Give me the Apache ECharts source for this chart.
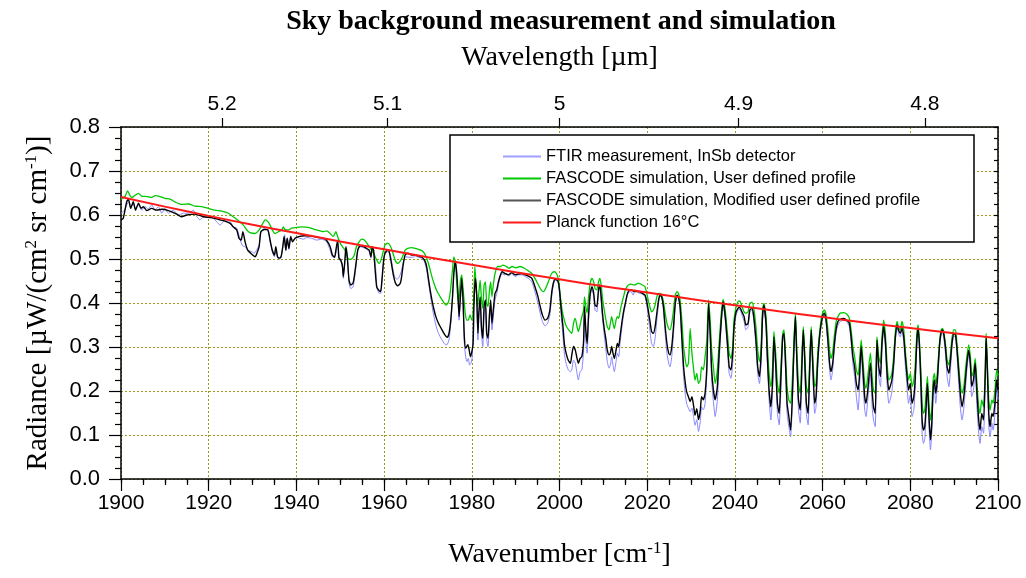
<!DOCTYPE html>
<html>
<head>
<meta charset="utf-8">
<script src="https://cdn.jsdelivr.net/npm/echarts@6/dist/echarts.min.js"></script>
<style>
  html, body { margin: 0; padding: 0; background: #fff; }
  #chart { width: 1026px; height: 578px; }
</style>
</head>
<body>
<div id="chart"></div>
<script>
// Sky radiance spectra: [wavenumber cm^-1, radiance µW/(cm² sr cm^-1)]

// FTIR measurement, InSb detector
const ftirMeasurement = [
  [1900.0,0.604],[1900.8,0.611],[1901.3,0.623],[1901.8,0.630],[1902.3,0.619],[1902.8,0.627],[1903.3,0.615],[1904.0,0.623],[1904.7,0.611],[1905.5,0.619],
  [1906.2,0.613],[1907.0,0.623],[1907.8,0.611],[1908.5,0.619],[1909.3,0.604],[1910.0,0.615],[1910.8,0.604],[1911.9,0.611],[1913.1,0.600],[1914.2,0.604],
  [1915.4,0.604],[1916.5,0.611],[1917.3,0.596],[1918.0,0.589],[1918.8,0.596],[1919.9,0.595],[1921.1,0.592],[1921.8,0.585],[1922.6,0.577],[1923.3,0.585],
  [1924.1,0.589],[1924.9,0.585],[1925.6,0.573],[1926.4,0.570],[1927.1,0.547],[1927.7,0.530],[1928.3,0.528],[1928.9,0.520],[1929.8,0.517],[1930.4,0.513],
  [1930.9,0.520],[1931.5,0.532],[1931.9,0.562],[1932.7,0.570],[1933.5,0.564],[1934.0,0.539],[1934.5,0.517],[1935.0,0.505],[1935.3,0.524],[1935.7,0.504],
  [1936.1,0.499],[1936.5,0.504],[1936.9,0.528],[1937.3,0.555],[1937.6,0.520],[1937.9,0.547],[1938.3,0.522],[1938.7,0.549],[1939.3,0.543],[1940.1,0.549],
  [1940.8,0.547],[1941.6,0.545],[1942.4,0.549],[1943.5,0.547],[1944.6,0.543],[1945.8,0.545],[1946.9,0.539],[1947.7,0.520],[1948.2,0.505],[1948.7,0.504],
  [1949.1,0.519],[1949.4,0.536],[1949.8,0.499],[1950.4,0.490],[1950.7,0.456],[1951.1,0.499],[1951.3,0.524],[1951.7,0.498],[1952.0,0.445],[1952.4,0.433],
  [1952.9,0.436],[1953.2,0.452],[1953.6,0.486],[1954.0,0.520],[1954.5,0.528],[1955.7,0.524],[1956.6,0.517],[1957.0,0.502],[1957.3,0.524],[1957.7,0.513],
  [1958.1,0.475],[1958.4,0.433],[1958.8,0.423],[1959.2,0.422],[1959.5,0.446],[1959.9,0.494],[1960.2,0.511],[1960.8,0.517],[1961.4,0.511],[1961.9,0.483],
  [1962.4,0.460],[1962.9,0.454],[1963.4,0.458],[1963.9,0.471],[1964.4,0.494],[1964.9,0.505],[1965.7,0.504],[1966.7,0.504],[1967.1,0.507],[1967.8,0.504],
  [1968.6,0.502],[1969.2,0.494],[1969.7,0.475],[1970.1,0.448],[1970.5,0.422],[1970.9,0.395],[1971.3,0.373],[1971.8,0.350],[1972.4,0.331],[1973.2,0.316],
  [1973.8,0.307],[1974.3,0.305],[1974.8,0.316],[1975.2,0.354],[1975.6,0.411],[1975.9,0.467],[1976.2,0.498],[1976.5,0.475],[1976.8,0.426],[1977.1,0.361],
  [1977.4,0.407],[1977.7,0.448],[1978.0,0.399],[1978.3,0.308],[1978.6,0.278],[1978.9,0.267],[1979.2,0.274],[1979.5,0.259],[1979.8,0.263],[1980.1,0.278],
  [1980.4,0.384],[1980.8,0.460],[1981.1,0.414],[1981.4,0.316],[1981.6,0.369],[1981.9,0.407],[1982.2,0.331],[1982.5,0.301],[1982.8,0.377],[1983.1,0.392],
  [1983.4,0.316],[1983.7,0.301],[1984.0,0.354],[1984.3,0.392],[1984.6,0.339],[1984.9,0.369],[1985.3,0.407],[1985.7,0.422],[1986.0,0.437],[1986.4,0.456],
  [1986.9,0.467],[1987.4,0.464],[1987.9,0.467],[1988.5,0.461],[1989.1,0.467],[1989.9,0.460],[1990.6,0.464],[1991.4,0.464],[1992.2,0.460],[1992.9,0.456],
  [1993.7,0.448],[1994.4,0.426],[1995.1,0.399],[1995.6,0.377],[1996.1,0.358],[1996.7,0.348],[1997.3,0.354],[1997.8,0.373],[1998.3,0.422],[1998.8,0.448],
  [1999.2,0.452],[1999.7,0.445],[2000.0,0.422],[2000.4,0.369],[2000.8,0.323],[2001.1,0.286],[2001.5,0.263],[2002.0,0.248],[2002.5,0.244],[2002.8,0.248],
  [2003.2,0.270],[2003.6,0.263],[2004.0,0.240],[2004.3,0.225],[2004.7,0.244],[2005.1,0.248],[2005.5,0.293],[2005.7,0.377],[2006.0,0.316],[2006.3,0.286],
  [2006.6,0.354],[2007.0,0.414],[2007.4,0.433],[2007.8,0.414],[2008.1,0.384],[2008.5,0.380],[2008.9,0.422],[2009.2,0.437],[2009.5,0.407],[2009.8,0.365],
  [2010.2,0.327],[2010.6,0.293],[2010.9,0.267],[2011.3,0.252],[2011.6,0.259],[2011.9,0.278],[2012.2,0.259],[2012.5,0.244],[2012.9,0.267],[2013.2,0.286],
  [2013.5,0.278],[2013.8,0.308],[2014.2,0.342],[2014.6,0.373],[2015.0,0.395],[2015.4,0.414],[2015.7,0.423],[2016.3,0.426],[2016.8,0.418],[2017.2,0.430],
  [2018.0,0.423],[2018.9,0.420],[2019.5,0.414],[2019.9,0.395],[2020.3,0.365],[2020.7,0.331],[2021.0,0.308],[2021.4,0.301],[2021.8,0.320],[2022.2,0.361],
  [2022.6,0.399],[2022.9,0.416],[2023.3,0.413],[2023.7,0.384],[2024.1,0.331],[2024.5,0.286],[2024.9,0.263],[2025.2,0.255],[2025.6,0.278],[2026.0,0.331],
  [2026.4,0.395],[2026.8,0.416],[2027.1,0.413],[2027.5,0.384],[2027.9,0.308],[2028.3,0.233],[2028.7,0.191],[2029.0,0.172],[2029.4,0.161],[2029.8,0.153],
  [2030.2,0.161],[2030.6,0.140],[2030.9,0.122],[2031.3,0.135],[2031.7,0.108],[2032.1,0.130],[2032.4,0.164],[2032.8,0.157],[2033.2,0.172],[2033.6,0.240],
  [2034.0,0.395],[2034.4,0.308],[2034.7,0.225],[2035.1,0.176],[2035.5,0.142],[2036.0,0.180],[2036.4,0.263],[2036.9,0.354],[2037.3,0.399],[2037.8,0.361],
  [2038.3,0.293],[2038.7,0.240],[2039.1,0.229],[2039.5,0.263],[2039.8,0.335],[2040.2,0.369],[2040.7,0.384],[2041.1,0.386],[2041.6,0.373],[2042.1,0.358],
  [2042.5,0.339],[2043.0,0.346],[2043.4,0.380],[2043.9,0.384],[2044.3,0.361],[2044.8,0.301],[2045.2,0.240],[2045.6,0.217],[2046.0,0.270],[2046.3,0.361],
  [2046.6,0.392],[2047.1,0.342],[2047.4,0.263],[2047.8,0.180],[2048.2,0.134],[2048.6,0.202],[2048.9,0.316],[2049.3,0.248],[2049.7,0.149],[2050.1,0.123],
  [2050.5,0.210],[2050.9,0.316],[2051.2,0.323],[2051.6,0.233],[2051.9,0.149],[2052.3,0.119],[2052.7,0.096],[2053.1,0.172],[2053.5,0.301],[2053.8,0.365],
  [2054.1,0.263],[2054.5,0.157],[2054.9,0.127],[2055.3,0.248],[2055.6,0.331],[2055.9,0.263],[2056.3,0.149],[2056.7,0.123],[2057.0,0.217],[2057.4,0.331],
  [2057.8,0.233],[2058.2,0.149],[2058.5,0.164],[2058.9,0.255],[2059.3,0.316],[2059.7,0.350],[2060.1,0.369],[2060.4,0.373],[2060.8,0.354],[2061.2,0.305],
  [2061.6,0.248],[2061.9,0.225],[2062.3,0.248],[2062.7,0.297],[2063.1,0.335],[2063.5,0.350],[2064.0,0.358],[2064.8,0.361],[2065.5,0.358],[2066.1,0.346],
  [2066.5,0.312],[2066.9,0.263],[2067.3,0.233],[2067.7,0.187],[2068.1,0.157],[2068.4,0.202],[2068.8,0.286],[2069.2,0.225],[2069.6,0.157],[2069.9,0.142],
  [2070.3,0.180],[2070.9,0.240],[2071.3,0.164],[2071.6,0.134],[2072.0,0.119],[2072.4,0.305],[2072.8,0.233],[2073.2,0.210],[2073.5,0.286],[2073.9,0.339],
  [2074.3,0.301],[2074.7,0.217],[2075.1,0.172],[2075.4,0.180],[2075.8,0.198],[2076.2,0.248],[2076.6,0.316],[2077.0,0.346],[2077.3,0.331],[2077.7,0.323],
  [2078.1,0.339],[2078.5,0.312],[2078.8,0.267],[2079.2,0.217],[2079.6,0.172],[2080.0,0.191],[2080.4,0.142],[2080.8,0.157],[2081.1,0.202],[2081.5,0.305],
  [2081.8,0.339],[2082.1,0.289],[2082.4,0.202],[2082.7,0.104],[2083.0,0.081],[2083.3,0.092],[2083.6,0.142],[2083.9,0.202],[2084.3,0.111],[2084.6,0.066],
  [2084.9,0.104],[2085.2,0.187],[2085.5,0.210],[2085.8,0.172],[2086.1,0.202],[2086.4,0.248],[2086.7,0.301],[2087.0,0.327],[2087.3,0.335],[2087.6,0.323],
  [2088.0,0.286],[2088.4,0.233],[2088.8,0.210],[2089.1,0.240],[2089.5,0.297],[2089.9,0.325],[2090.3,0.322],[2090.6,0.289],[2091.0,0.225],[2091.4,0.164],
  [2091.8,0.134],[2092.2,0.161],[2092.5,0.195],[2092.9,0.248],[2093.3,0.282],[2093.7,0.248],[2094.0,0.187],[2094.4,0.202],[2094.8,0.248],[2095.2,0.164],
  [2095.6,0.104],[2095.9,0.081],[2096.3,0.119],[2096.7,0.104],[2097.1,0.225],[2097.3,0.316],[2097.6,0.225],[2097.9,0.119],[2098.2,0.096],[2098.6,0.127],
  [2098.9,0.111],[2099.3,0.149],[2099.7,0.210],[2100.0,0.180]
];

// FASCODE simulation, user defined profile
const fascodeUser = [
  [1900.0,0.636],[1900.9,0.642],[1901.5,0.655],[1902.1,0.643],[1902.6,0.640],[1903.2,0.645],[1904.0,0.649],[1904.7,0.643],[1905.9,0.642],[1907.0,0.640],
  [1907.8,0.644],[1908.9,0.642],[1910.0,0.638],[1911.2,0.636],[1912.3,0.630],[1913.8,0.624],[1915.4,0.625],[1916.9,0.620],[1918.4,0.619],[1919.9,0.615],
  [1921.4,0.611],[1923.0,0.609],[1924.5,0.604],[1925.6,0.596],[1926.8,0.587],[1927.9,0.577],[1928.7,0.566],[1929.4,0.560],[1930.6,0.558],[1931.5,0.566],
  [1932.1,0.577],[1932.9,0.589],[1933.5,0.585],[1934.0,0.577],[1934.5,0.566],[1935.1,0.558],[1935.9,0.562],[1936.7,0.566],[1937.0,0.573],[1937.4,0.567],
  [1938.2,0.566],[1938.9,0.570],[1940.1,0.572],[1941.2,0.573],[1942.7,0.572],[1944.3,0.567],[1945.4,0.564],[1946.2,0.562],[1946.9,0.564],[1947.7,0.558],
  [1948.4,0.551],[1949.0,0.562],[1949.4,0.551],[1950.0,0.536],[1950.5,0.528],[1951.1,0.520],[1951.7,0.502],[1952.3,0.499],[1952.8,0.502],[1953.2,0.509],
  [1953.7,0.528],[1954.3,0.539],[1954.9,0.545],[1955.5,0.543],[1956.0,0.537],[1956.6,0.528],[1957.2,0.520],[1957.8,0.509],[1958.3,0.498],[1958.9,0.490],
  [1959.3,0.498],[1959.7,0.513],[1960.2,0.532],[1960.8,0.536],[1961.4,0.530],[1961.9,0.517],[1962.5,0.498],[1963.1,0.490],[1963.6,0.494],[1964.2,0.505],
  [1964.8,0.520],[1965.4,0.524],[1966.3,0.526],[1967.1,0.524],[1967.8,0.522],[1968.6,0.519],[1969.2,0.513],[1969.7,0.502],[1970.3,0.483],[1970.9,0.460],
  [1971.5,0.441],[1972.1,0.426],[1972.8,0.414],[1973.5,0.403],[1974.1,0.395],[1974.7,0.403],[1975.1,0.426],[1975.6,0.475],[1975.9,0.505],[1976.3,0.490],
  [1976.6,0.437],[1977.0,0.399],[1977.4,0.452],[1977.7,0.464],[1978.1,0.422],[1978.5,0.377],[1978.9,0.361],[1979.2,0.361],[1979.6,0.373],[1980.0,0.361],
  [1980.4,0.399],[1980.7,0.483],[1981.0,0.437],[1981.3,0.392],[1981.6,0.422],[1981.9,0.452],[1982.2,0.411],[1982.5,0.388],[1982.8,0.441],[1983.1,0.448],
  [1983.4,0.399],[1983.7,0.392],[1984.0,0.426],[1984.3,0.448],[1984.6,0.414],[1984.9,0.441],[1985.3,0.467],[1985.9,0.483],[1986.5,0.483],[1987.1,0.486],
  [1987.7,0.484],[1988.5,0.479],[1989.2,0.483],[1990.0,0.480],[1991.0,0.483],[1992.0,0.479],[1992.9,0.473],[1993.7,0.467],[1994.4,0.456],[1995.2,0.441],
  [1995.8,0.430],[1996.4,0.426],[1997.0,0.437],[1997.6,0.452],[1998.2,0.467],[1998.8,0.471],[1999.3,0.467],[1999.7,0.456],[2000.2,0.414],[2000.6,0.384],
  [2001.1,0.361],[2001.6,0.346],[2002.4,0.335],[2002.8,0.331],[2003.2,0.354],[2003.6,0.365],[2004.0,0.346],[2004.3,0.335],[2004.7,0.350],[2005.1,0.369],
  [2005.5,0.384],[2005.7,0.414],[2006.0,0.392],[2006.3,0.377],[2006.6,0.411],[2007.0,0.445],[2007.4,0.456],[2007.8,0.448],[2008.1,0.433],[2008.5,0.430],
  [2008.9,0.448],[2009.2,0.456],[2009.5,0.441],[2009.8,0.411],[2010.2,0.384],[2010.6,0.361],[2010.9,0.346],[2011.3,0.339],[2011.6,0.354],[2011.9,0.369],
  [2012.2,0.354],[2012.5,0.342],[2012.9,0.361],[2013.2,0.369],[2013.5,0.365],[2013.8,0.380],[2014.2,0.399],[2014.6,0.414],[2015.0,0.430],[2015.4,0.437],
  [2015.7,0.441],[2016.3,0.443],[2017.1,0.441],[2018.0,0.445],[2018.9,0.441],[2019.5,0.437],[2019.9,0.422],[2020.3,0.403],[2020.7,0.388],[2021.0,0.380],
  [2021.4,0.384],[2021.8,0.395],[2022.2,0.414],[2022.6,0.422],[2022.9,0.422],[2023.3,0.418],[2023.7,0.403],[2024.1,0.377],[2024.5,0.354],[2024.9,0.342],
  [2025.2,0.339],[2025.6,0.354],[2026.0,0.384],[2026.4,0.418],[2026.8,0.426],[2027.1,0.422],[2027.5,0.407],[2027.9,0.361],[2028.3,0.301],[2028.7,0.270],
  [2029.0,0.255],[2029.4,0.263],[2029.8,0.342],[2030.2,0.286],[2030.6,0.248],[2030.9,0.225],[2031.3,0.240],[2031.7,0.217],[2032.1,0.225],[2032.4,0.255],
  [2032.8,0.248],[2033.2,0.278],[2033.6,0.316],[2034.0,0.407],[2034.4,0.354],[2034.7,0.293],[2035.1,0.255],[2035.5,0.217],[2036.0,0.248],[2036.4,0.308],
  [2036.9,0.377],[2037.3,0.408],[2037.8,0.384],[2038.3,0.331],[2038.7,0.286],[2039.1,0.274],[2039.5,0.301],[2039.8,0.361],[2040.2,0.388],[2040.7,0.403],
  [2041.1,0.405],[2041.6,0.392],[2042.1,0.380],[2042.5,0.377],[2043.0,0.380],[2043.4,0.399],[2043.9,0.402],[2044.3,0.388],[2044.8,0.346],[2045.2,0.293],
  [2045.6,0.267],[2046.0,0.308],[2046.3,0.384],[2046.6,0.399],[2047.1,0.369],[2047.4,0.308],[2047.8,0.240],[2048.2,0.210],[2048.6,0.255],[2048.9,0.335],
  [2049.3,0.286],[2049.7,0.217],[2050.1,0.195],[2050.5,0.255],[2050.9,0.331],[2051.2,0.339],[2051.6,0.270],[2051.9,0.210],[2052.3,0.180],[2052.7,0.172],
  [2053.1,0.225],[2053.5,0.323],[2053.8,0.377],[2054.1,0.301],[2054.5,0.217],[2054.9,0.195],[2055.3,0.286],[2055.6,0.346],[2055.9,0.293],[2056.3,0.210],
  [2056.7,0.195],[2057.0,0.255],[2057.4,0.346],[2057.8,0.270],[2058.2,0.210],[2058.5,0.217],[2058.9,0.286],[2059.3,0.331],[2059.7,0.365],[2060.1,0.380],
  [2060.4,0.384],[2060.8,0.373],[2061.2,0.339],[2061.6,0.293],[2061.9,0.274],[2062.3,0.289],[2062.7,0.327],[2063.1,0.358],[2063.5,0.369],[2064.0,0.377],
  [2064.8,0.378],[2065.5,0.375],[2066.1,0.365],[2066.5,0.339],[2066.9,0.301],[2067.3,0.278],[2067.7,0.248],[2068.1,0.236],[2068.4,0.263],[2068.8,0.316],
  [2069.2,0.270],[2069.6,0.217],[2069.9,0.206],[2070.3,0.233],[2070.9,0.286],[2071.3,0.233],[2071.6,0.202],[2072.0,0.195],[2072.4,0.323],[2072.8,0.278],
  [2073.2,0.263],[2073.5,0.316],[2073.9,0.361],[2074.3,0.331],[2074.7,0.263],[2075.1,0.225],[2075.4,0.229],[2075.8,0.240],[2076.2,0.278],[2076.6,0.335],
  [2077.0,0.358],[2077.3,0.346],[2077.7,0.339],[2078.1,0.358],[2078.5,0.339],[2078.8,0.301],[2079.2,0.255],[2079.6,0.225],[2080.0,0.240],[2080.4,0.210],
  [2080.8,0.225],[2081.1,0.255],[2081.5,0.331],[2081.8,0.350],[2082.1,0.308],[2082.4,0.248],[2082.7,0.172],[2083.0,0.149],[2083.3,0.157],[2083.6,0.195],
  [2083.9,0.233],[2084.3,0.164],[2084.6,0.134],[2084.9,0.157],[2085.2,0.225],[2085.5,0.240],[2085.8,0.217],[2086.1,0.233],[2086.4,0.274],[2086.7,0.316],
  [2087.0,0.337],[2087.3,0.342],[2087.6,0.335],[2088.0,0.308],[2088.4,0.270],[2088.8,0.259],[2089.1,0.278],[2089.5,0.320],[2089.9,0.339],[2090.3,0.339],
  [2090.6,0.312],[2091.0,0.263],[2091.4,0.217],[2091.8,0.195],[2092.2,0.210],[2092.5,0.240],[2092.9,0.278],[2093.3,0.305],[2093.7,0.278],[2094.0,0.233],
  [2094.4,0.244],[2094.8,0.274],[2095.2,0.217],[2095.6,0.164],[2095.9,0.149],[2096.3,0.180],[2096.7,0.164],[2097.1,0.255],[2097.3,0.331],[2097.6,0.255],
  [2097.9,0.180],[2098.2,0.157],[2098.6,0.180],[2098.9,0.172],[2099.3,0.202],[2099.7,0.248],[2100.0,0.233]
];

// FASCODE simulation, modified user defined profile
const fascodeModified = [
  [1900.0,0.589],[1900.5,0.592],[1901.3,0.630],[1901.7,0.636],[1902.2,0.615],[1902.8,0.630],[1903.3,0.611],[1904.0,0.627],[1904.6,0.615],[1905.1,0.619],
  [1905.9,0.610],[1907.0,0.615],[1908.1,0.611],[1909.3,0.613],[1910.8,0.610],[1912.7,0.602],[1913.8,0.596],[1915.0,0.600],[1916.9,0.602],[1918.8,0.596],
  [1920.7,0.594],[1922.2,0.590],[1923.7,0.586],[1924.9,0.581],[1925.6,0.573],[1926.4,0.566],[1926.9,0.547],[1927.4,0.543],[1927.8,0.562],[1928.3,0.539],
  [1928.9,0.520],[1929.8,0.511],[1930.6,0.505],[1931.0,0.513],[1931.5,0.528],[1931.9,0.562],[1932.7,0.567],[1933.5,0.566],[1934.0,0.543],[1934.5,0.520],
  [1935.0,0.509],[1935.3,0.528],[1935.7,0.505],[1936.1,0.502],[1936.5,0.505],[1936.9,0.528],[1937.2,0.551],[1937.6,0.520],[1937.9,0.547],[1938.3,0.524],
  [1938.7,0.551],[1939.1,0.539],[1939.7,0.547],[1940.5,0.551],[1942.0,0.553],[1943.5,0.552],[1945.0,0.549],[1946.2,0.547],[1946.9,0.542],[1947.7,0.528],
  [1948.2,0.509],[1948.7,0.504],[1949.0,0.520],[1949.4,0.543],[1949.7,0.502],[1950.1,0.498],[1950.5,0.483],[1950.7,0.460],[1951.1,0.502],[1951.3,0.528],
  [1951.6,0.505],[1952.0,0.452],[1952.4,0.441],[1952.9,0.445],[1953.2,0.460],[1953.6,0.490],[1954.0,0.520],[1954.5,0.530],[1955.3,0.528],[1956.0,0.524],
  [1956.6,0.520],[1957.0,0.505],[1957.3,0.528],[1957.6,0.520],[1957.9,0.483],[1958.3,0.437],[1958.7,0.430],[1959.2,0.426],[1959.5,0.452],[1959.9,0.498],
  [1960.2,0.513],[1960.8,0.520],[1961.1,0.519],[1961.6,0.494],[1962.1,0.464],[1962.6,0.445],[1963.1,0.439],[1963.7,0.445],[1964.0,0.460],[1964.4,0.490],
  [1964.8,0.509],[1965.4,0.513],[1966.3,0.509],[1967.1,0.509],[1967.8,0.507],[1968.6,0.504],[1969.2,0.498],[1969.7,0.483],[1970.1,0.456],[1970.5,0.430],
  [1970.9,0.407],[1971.3,0.388],[1971.8,0.369],[1972.4,0.354],[1973.2,0.339],[1973.9,0.327],[1974.4,0.322],[1974.8,0.331],[1975.2,0.361],[1975.6,0.414],
  [1975.9,0.467],[1976.2,0.494],[1976.5,0.475],[1976.8,0.430],[1977.1,0.369],[1977.4,0.414],[1977.7,0.456],[1978.0,0.407],[1978.3,0.323],[1978.6,0.297],
  [1979.1,0.305],[1979.4,0.293],[1979.7,0.278],[1980.0,0.289],[1980.3,0.308],[1980.5,0.399],[1980.8,0.456],[1981.1,0.422],[1981.4,0.331],[1981.6,0.377],
  [1981.9,0.414],[1982.2,0.346],[1982.5,0.320],[1982.8,0.392],[1983.1,0.407],[1983.4,0.331],[1983.7,0.320],[1984.0,0.369],[1984.3,0.407],[1984.6,0.354],
  [1984.9,0.384],[1985.3,0.422],[1985.7,0.430],[1986.0,0.445],[1986.4,0.460],[1986.9,0.471],[1987.6,0.467],[1988.3,0.464],[1989.1,0.469],[1989.9,0.464],
  [1990.6,0.466],[1991.4,0.467],[1992.2,0.464],[1992.9,0.461],[1993.7,0.456],[1994.4,0.437],[1995.1,0.414],[1995.6,0.392],[1996.1,0.373],[1996.7,0.361],
  [1997.3,0.365],[1997.8,0.384],[1998.3,0.430],[1998.8,0.452],[1999.2,0.454],[1999.7,0.448],[2000.0,0.430],[2000.4,0.384],[2000.8,0.346],[2001.1,0.308],
  [2001.5,0.286],[2002.0,0.270],[2002.5,0.263],[2002.8,0.282],[2003.2,0.301],[2003.6,0.293],[2004.0,0.274],[2004.3,0.263],[2004.7,0.274],[2005.1,0.278],
  [2005.5,0.316],[2005.7,0.392],[2006.0,0.339],[2006.3,0.308],[2006.6,0.369],[2007.0,0.422],[2007.4,0.437],[2007.8,0.422],[2008.1,0.395],[2008.5,0.392],
  [2008.9,0.430],[2009.2,0.441],[2009.5,0.414],[2009.8,0.377],[2010.2,0.342],[2010.6,0.316],[2010.9,0.293],[2011.3,0.282],[2011.6,0.286],[2011.9,0.301],
  [2012.2,0.286],[2012.5,0.274],[2012.9,0.293],[2013.2,0.308],[2013.5,0.301],[2013.8,0.323],[2014.2,0.354],[2014.6,0.380],[2015.0,0.399],[2015.4,0.418],
  [2015.7,0.426],[2016.3,0.430],[2017.1,0.426],[2018.0,0.426],[2018.9,0.422],[2019.5,0.418],[2019.9,0.403],[2020.3,0.380],[2020.7,0.354],[2021.0,0.335],
  [2021.4,0.331],[2021.8,0.346],[2022.2,0.377],[2022.6,0.407],[2022.9,0.418],[2023.3,0.414],[2023.7,0.392],[2024.1,0.346],[2024.5,0.308],[2024.9,0.286],
  [2025.2,0.282],[2025.6,0.301],[2026.0,0.346],[2026.4,0.399],[2026.8,0.418],[2027.1,0.414],[2027.5,0.392],[2027.9,0.323],[2028.3,0.255],[2028.7,0.217],
  [2029.0,0.198],[2029.4,0.187],[2029.8,0.176],[2030.2,0.187],[2030.6,0.165],[2030.9,0.145],[2031.3,0.160],[2031.7,0.135],[2032.1,0.155],[2032.4,0.187],
  [2032.8,0.180],[2033.2,0.195],[2033.6,0.255],[2034.0,0.399],[2034.4,0.323],[2034.7,0.248],[2035.1,0.202],[2035.5,0.180],[2036.0,0.210],[2036.4,0.286],
  [2036.9,0.361],[2037.3,0.403],[2037.8,0.369],[2038.3,0.308],[2038.7,0.255],[2039.1,0.248],[2039.5,0.286],[2039.8,0.346],[2040.2,0.377],[2040.7,0.388],
  [2041.1,0.390],[2041.6,0.380],[2042.1,0.369],[2042.5,0.350],[2043.0,0.354],[2043.4,0.384],[2043.9,0.388],[2044.3,0.369],[2044.8,0.316],[2045.2,0.255],
  [2045.6,0.233],[2046.0,0.286],[2046.3,0.369],[2046.6,0.395],[2047.1,0.354],[2047.4,0.278],[2047.8,0.202],[2048.2,0.164],[2048.6,0.225],[2048.9,0.323],
  [2049.3,0.263],[2049.7,0.172],[2050.1,0.149],[2050.5,0.233],[2050.9,0.323],[2051.2,0.331],[2051.6,0.248],[2051.9,0.172],[2052.3,0.142],[2052.7,0.111],
  [2053.1,0.187],[2053.5,0.308],[2053.8,0.369],[2054.1,0.278],[2054.5,0.180],[2054.9,0.157],[2055.3,0.263],[2055.6,0.339],[2055.9,0.278],[2056.3,0.172],
  [2056.7,0.149],[2057.0,0.233],[2057.4,0.339],[2057.8,0.248],[2058.2,0.172],[2058.5,0.187],[2058.9,0.270],[2059.3,0.323],[2059.7,0.354],[2060.1,0.373],
  [2060.4,0.377],[2060.8,0.361],[2061.2,0.316],[2061.6,0.263],[2061.9,0.244],[2062.3,0.263],[2062.7,0.308],[2063.1,0.342],[2063.5,0.358],[2064.0,0.363],
  [2064.8,0.365],[2065.5,0.361],[2066.1,0.354],[2066.5,0.323],[2066.9,0.278],[2067.3,0.255],[2067.7,0.217],[2068.1,0.202],[2068.4,0.233],[2068.8,0.301],
  [2069.2,0.248],[2069.6,0.187],[2069.9,0.172],[2070.3,0.202],[2070.9,0.263],[2071.3,0.202],[2071.6,0.164],[2072.0,0.149],[2072.4,0.316],[2072.8,0.255],
  [2073.2,0.233],[2073.5,0.301],[2073.9,0.346],[2074.3,0.316],[2074.7,0.240],[2075.1,0.202],[2075.4,0.210],[2075.8,0.225],[2076.2,0.263],[2076.6,0.323],
  [2077.0,0.350],[2077.3,0.339],[2077.7,0.331],[2078.1,0.342],[2078.5,0.323],[2078.8,0.286],[2079.2,0.240],[2079.6,0.202],[2080.0,0.217],[2080.4,0.172],
  [2080.8,0.187],[2081.1,0.225],[2081.5,0.316],[2081.8,0.342],[2082.1,0.301],[2082.4,0.225],[2082.7,0.134],[2083.0,0.111],[2083.3,0.119],[2083.6,0.164],
  [2083.9,0.217],[2084.3,0.134],[2084.6,0.089],[2084.9,0.127],[2085.2,0.202],[2085.5,0.225],[2085.8,0.195],[2086.1,0.217],[2086.4,0.263],[2086.7,0.308],
  [2087.0,0.331],[2087.3,0.339],[2087.6,0.331],[2088.0,0.301],[2088.4,0.255],[2088.8,0.240],[2089.1,0.263],[2089.5,0.308],[2089.9,0.331],[2090.3,0.327],
  [2090.6,0.301],[2091.0,0.248],[2091.4,0.195],[2091.8,0.164],[2092.2,0.187],[2092.5,0.217],[2092.9,0.263],[2093.3,0.293],[2093.7,0.263],[2094.0,0.210],
  [2094.4,0.225],[2094.8,0.263],[2095.2,0.195],[2095.6,0.134],[2095.9,0.111],[2096.3,0.149],[2096.7,0.134],[2097.1,0.240],[2097.3,0.323],[2097.6,0.240],
  [2097.9,0.149],[2098.2,0.119],[2098.6,0.149],[2098.9,0.142],[2099.3,0.172],[2099.7,0.225],[2100.0,0.202]
];

// Planck function at 16 °C, read every 10 cm^-1
const planckWavenumber = [1900,1910,1920,1930,1940,1950,1960,1970,1980,1990,2000,2010,2020,2030,2040,2050,2060,2070,2080,2090,2100];
const planckRadiance  = [0.641,0.619,0.598,0.578,0.559,0.540,0.522,0.504,0.487,0.470,0.454,0.438,0.424,0.409,0.395,0.381,0.368,0.355,0.343,0.331,0.320];

// Wavelength scale on the top axis [µm]
const wavelengthTicks = [5.2, 5.1, 5.0, 4.9, 4.8];

const SANS = '"Liberation Sans", Arial, sans-serif';
const SERIF = '"Liberation Serif", "Times New Roman", serif';
const GRID_LINE = { show: true, lineStyle: { color: '#9a9a20', width: 1, type: [2, 2] } };

const chart = echarts.init(document.getElementById('chart'), null, { renderer: 'canvas' });

// rich styles for axis titles with superscripts
const xNameRich = {
  n: { fontFamily: SERIF, fontSize: 28, color: '#000', lineHeight: 30 },
  s: { fontFamily: SERIF, fontSize: 17, color: '#000', verticalAlign: 'top', lineHeight: 16 }
};
const yNameRich = {
  n: { fontFamily: SERIF, fontSize: 29, color: '#000', lineHeight: 31 },
  s: { fontFamily: SERIF, fontSize: 17, color: '#000', verticalAlign: 'top', lineHeight: 16 }
};

chart.setOption({
  animation: false,
  backgroundColor: '#fff',
  grid: { left: 121, right: 28, top: 127, bottom: 99, containLabel: false },
  graphic: [
    {
      type: 'text', x: 561, y: 22, z: 10,
      style: { text: 'Sky background measurement and simulation', font: 'bold 28px ' + SERIF,
               fill: '#000', align: 'center', verticalAlign: 'middle' }
    },
    {
      type: 'rect', z: 3,
      shape: { x: 450, y: 135, width: 524, height: 107 },
      style: { fill: '#fff', stroke: '#000', lineWidth: 1.5 }
    }
  ],
  legend: {
    orient: 'vertical', left: 503, top: 148, padding: 0,
    icon: 'rect', itemWidth: 38, itemHeight: 2, itemGap: 5, z: 5,
    textStyle: { fontFamily: SANS, fontSize: 16.5, color: '#000', lineHeight: 16 },
    data: ['FTIR measurement, InSb detector', 'FASCODE simulation, User defined profile',
           'FASCODE simulation, Modified user defined profile', 'Planck function 16°C']
  },
  xAxis: [
    {
      type: 'value', position: 'bottom', min: 1900, max: 2100, interval: 20,
      name: '{n|Wavenumber [cm}{s|-1}{n|]}', nameLocation: 'middle', nameGap: 61,
      nameTextStyle: { rich: xNameRich },
      axisLine: { show: true, onZero: false, lineStyle: { color: '#000', width: 1.5 } },
      axisTick: { show: true, inside: false, length: 12, lineStyle: { color: '#000', width: 1.2 } },
      minorTick: { show: true, splitNumber: 4, length: 6, lineStyle: { color: '#000', width: 1.2 } },
      axisLabel: { margin: 14, fontFamily: SANS, fontSize: 21, color: '#000', formatter: v => String(v) },
      splitLine: GRID_LINE
    },
    {
      type: 'value', position: 'top', min: 1900, max: 2100,
      name: 'Wavelength [µm]', nameLocation: 'middle', nameGap: 55,
      nameTextStyle: { fontFamily: SERIF, fontSize: 28, color: '#000' },
      axisLine: { show: true, onZero: false, lineStyle: { color: '#000', width: 1.5 } },
      axisTick: { show: true, inside: false, length: 9, lineStyle: { color: '#000', width: 1.2 },
                  customValues: wavelengthTicks.map(w => 10000 / w) },
      axisLabel: { margin: 12, fontFamily: SANS, fontSize: 21, color: '#000',
                   customValues: wavelengthTicks.map(w => 10000 / w),
                   formatter: v => String(Math.round(100000 / v) / 10) },
      splitLine: { show: false }
    },
    {
      type: 'value', position: 'top', min: 1900, max: 2100, interval: 5,
      axisLine: { show: false },
      axisTick: { show: true, inside: true, length: 4, lineStyle: { color: '#000', width: 1.2 } },
      axisLabel: { show: false },
      splitLine: { show: false }
    }
  ],
  yAxis: [
    {
      type: 'value', position: 'left', min: 0, max: 0.8, interval: 0.1,
      name: '{n|Radiance [µW/(cm}{s|2}{n| sr cm}{s|-1}{n|)]}', nameLocation: 'middle', nameGap: 67,
      nameRotate: 90, nameTextStyle: { rich: yNameRich },
      axisLine: { show: true, onZero: false, lineStyle: { color: '#000', width: 1.5 } },
      axisTick: { show: true, inside: false, length: 12, lineStyle: { color: '#000', width: 1.2 } },
      minorTick: { show: true, splitNumber: 4, length: 6, lineStyle: { color: '#000', width: 1.2 } },
      axisLabel: { margin: 21, fontFamily: SANS, fontSize: 22, color: '#000', formatter: v => v.toFixed(1) },
      splitLine: GRID_LINE
    },
    {
      type: 'value', position: 'right', min: 0, max: 0.8, interval: 0.025,
      axisLine: { show: true, onZero: false, lineStyle: { color: '#000', width: 1.5 } },
      axisTick: { show: true, inside: true, length: 4, lineStyle: { color: '#000', width: 1.2 } },
      axisLabel: { show: false },
      splitLine: { show: false }
    }
  ],
  series: [
    {
      name: 'FTIR measurement, InSb detector', type: 'line', data: ftirMeasurement,
      xAxisIndex: 0, yAxisIndex: 0, showSymbol: false, symbol: 'none', smooth: 0.2, z: 2,
      lineStyle: { color: '#8585ff', width: 1 }, itemStyle: { color: '#a0a0ff' }
    },
    {
      name: 'FASCODE simulation, User defined profile', type: 'line', data: fascodeUser,
      xAxisIndex: 0, yAxisIndex: 0, showSymbol: false, symbol: 'none', smooth: 0.2, z: 2,
      lineStyle: { color: '#00c800', width: 1.3 }, itemStyle: { color: '#00c800' }
    },
    {
      name: 'FASCODE simulation, Modified user defined profile', type: 'line', data: fascodeModified,
      xAxisIndex: 0, yAxisIndex: 0, showSymbol: false, symbol: 'none', smooth: 0.2, z: 2,
      lineStyle: { color: '#000', width: 1.4 }, itemStyle: { color: '#555' }
    },
    {
      name: 'Planck function 16°C', type: 'line',
      data: planckWavenumber.map((w, i) => [w, planckRadiance[i]]),
      xAxisIndex: 0, yAxisIndex: 0, showSymbol: false, symbol: 'none', smooth: true, z: 2,
      lineStyle: { color: '#ff1a1a', width: 2 }, itemStyle: { color: '#ff1a1a' }
    }
  ]
});
</script>
</body>
</html>
